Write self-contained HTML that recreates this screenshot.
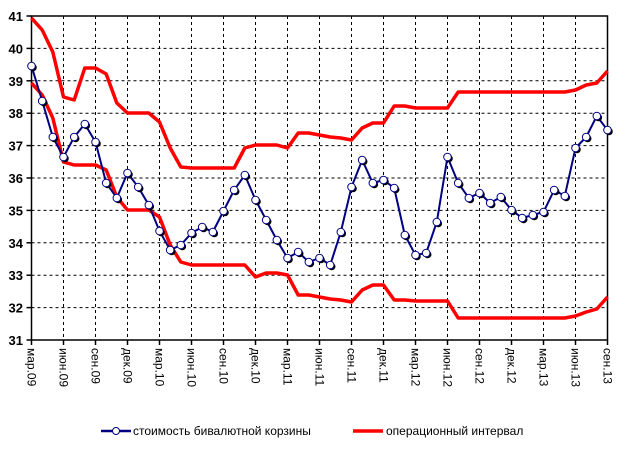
<!DOCTYPE html>
<html><head><meta charset="utf-8"><style>body{margin:0;background:#fff}svg{display:block}</style></head>
<body>
<svg id="s" width="625" height="466" xmlns="http://www.w3.org/2000/svg" font-family="Liberation Sans, Arial, sans-serif"></svg>
<script>
const s=document.getElementById('s');
const L=31.5,R=607.5,T=16,B=340;
const X=i=>L+i*(R-L)/54, Y=v=>B-(v-31)*(B-T)/10;
let h='';
// grid
for(let v=32;v<=40;v++) h+=`<line x1="${L}" x2="${R}" y1="${Y(v)}" y2="${Y(v)}" stroke="#000" stroke-dasharray="3,3"/>`;
for(let k=1;k<18;k++){const x=X(k*3);h+=`<line x1="${x}" x2="${x}" y1="${T}" y2="${B}" stroke="#000" stroke-dasharray="3,3"/>`;}
h+=`<rect x="${L}" y="${T}" width="${R-L}" height="${B-T}" fill="none" stroke="#000" stroke-width="1.5"/>`;
for(let k=0;k<=18;k++){const x=X(k*3);h+=`<line x1="${x}" x2="${x}" y1="${B}" y2="${B+5}" stroke="#000" stroke-width="1.5"/>`;}
for(let v=31;v<=41;v++) h+=`<line x1="${L-5}" x2="${L}" y1="${Y(v)}" y2="${Y(v)}" stroke="#000" stroke-width="1.5"/><text x="23" y="${Y(v)+5}" text-anchor="end" font-size="13" font-weight="bold">${v}</text>`;
const labs=['мар.09','июн.09','сен.09','дек.09','мар.10','июн.10','сен.10','дек.10','мар.11','июн.11','сен.11','дек.11','мар.12','июн.12','сен.12','дек.12','мар.13','июн.13','сен.13'];
labs.forEach((t,k)=>{const x=X(k*3);h+=`<text transform="translate(${x},348) rotate(90)" dominant-baseline="central" font-size="12">${t}</text>`;});
const up=[18,30,52,97,100,68,68,74,103,113,113,113,122,148,167,168,168,168,168,168,148,145,145,145,148,133,133,135,137,138,140,128,123,123,106,106,108,108,108,108,92,92,92,92,92,92,92,92,92,92,92,90,85,83,71];
const lo=[83,95,118,162,165,165,165,170,197,210,210,210,217,245,262,265,265,265,265,265,265,277,273,273,275,295,295,297,299,300,302,290,285,285,300,300,301,301,301,301,318,318,318,318,318,318,318,318,318,318,318,316,312,309,297];
const bl=[66,101,137,157,137,124,142,183,198,173,187,205,231,250,245,233,227,232,211,190,175,200,220,240,258,252,262,258,265,232,187,160,183,180,188,235,255,253,222,157,183,198,193,203,197,210,218,215,212,190,196,148,137,116,130];
const P=a=>a.map((y,i)=>`${X(i).toFixed(1)},${y}`).join(' ');
h+=`<polyline points="${P(up)}" fill="none" stroke="#f00" stroke-width="3.5" stroke-linejoin="round"/>`;
h+=`<polyline points="${P(lo)}" fill="none" stroke="#f00" stroke-width="3.5" stroke-linejoin="round"/>`;
h+=`<polyline points="${P(bl)}" fill="none" stroke="#000080" stroke-width="2"/>`;
bl.forEach((y,i)=>{const x=X(i);h+=`<circle cx="${x+1.5}" cy="${y+1.5}" r="3.8" fill="#000"/><circle cx="${x}" cy="${y}" r="3.8" fill="#fff" stroke="#000080" stroke-width="1"/>`;});
// legend
h+=`<line x1="101" x2="131" y1="431" y2="431" stroke="#000080" stroke-width="2.5"/><circle cx="116" cy="431" r="3.5" fill="#fff" stroke="#000080"/><text x="133" y="435" font-size="12">стоимость бивалютной корзины</text>`;
h+=`<line x1="353" x2="383" y1="431" y2="431" stroke="#f00" stroke-width="3.5"/><text x="386" y="435" font-size="12">операционный интервал</text>`;
s.innerHTML=h;
</script>
</body></html>
